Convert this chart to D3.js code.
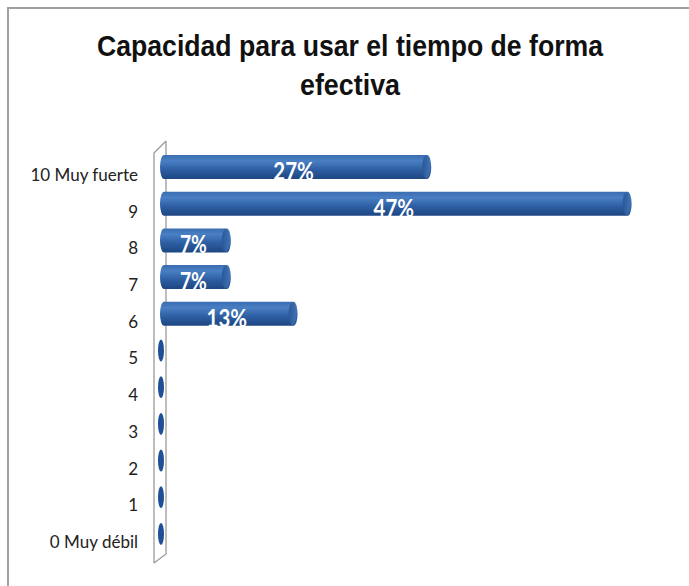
<!DOCTYPE html>
<html>
<head>
<meta charset="utf-8">
<script src="https://cdn.jsdelivr.net/npm/d3@7"></script>
<style>
  body { margin: 0; background: #fff; }
  svg { display: block; }
</style>
</head>
<body>
<svg id="chart" width="689" height="586"></svg>
<script>
// Chart data: share of answers per score (15 respondents)
const categories = ["10 Muy fuerte", "9", "8", "7", "6", "5", "4", "3", "2", "1", "0 Muy débil"]
const values = [26.67, 46.67, 6.67, 6.67, 13.33, 0, 0, 0, 0, 0, 0]
const valueLabels = ["27%", "47%", "7%", "7%", "13%", "", "", "", "", "", ""]
const titleLines = ["Capacidad para usar el tiempo de forma", "efectiva"]

const svg = d3.select("#chart")

// Outer frame (only top and left edges show in the picture)
svg.append("path")
  .attr("d", "M8,586 L8,8 L689,8")
  .attr("fill", "none")
  .attr("stroke", "#a0a0a0")
  .attr("stroke-width", 2)

// Title, squeezed a bit horizontally like the original
svg.append("text")
  .attr("x", 350).attr("y", 56)
  .attr("text-anchor", "middle")
  .attr("textLength", 506).attr("lengthAdjust", "spacingAndGlyphs")
  .style("font", "bold 29px 'Liberation Sans', Arial, sans-serif")
  .style("fill", "#111")
  .text(titleLines[0])
svg.append("text")
  .attr("x", 350).attr("y", 95)
  .attr("text-anchor", "middle")
  .attr("textLength", 100).attr("lengthAdjust", "spacingAndGlyphs")
  .style("font", "bold 29px 'Liberation Sans', Arial, sans-serif")
  .style("fill", "#111")
  .text(titleLines[1])

// Scales
const x = d3.scaleLinear().domain([0, 50]).range([160, 661])
const y = d3.scalePoint().domain(categories).range([167, 534])
const barH = 24
const depth = 8 // vertical offset of labels vs. bars (3D perspective)

// Back wall of the 3D chart
const wallTop = y(categories[0]) - barH / 2 - 2
const wallBot = y(categories[categories.length - 1]) + barH / 2 + 8
svg.append("path")
  .attr("d", `M154,${wallBot + 9} L154,${wallTop} L166,${wallTop - 12} M166,${wallTop - 12} L166,${wallBot} L154,${wallBot + 9}`)
  .attr("fill", "none")
  .attr("stroke", "#9a9a9a")
  .attr("stroke-width", 1.3)

// Gradients for the cylinders
const defs = svg.append("defs")
const body = defs.append("linearGradient").attr("id", "cyl").attr("x1", 0).attr("y1", 0).attr("x2", 0).attr("y2", 1)
body.append("stop").attr("offset", "0%").attr("stop-color", "#3a6db0")
body.append("stop").attr("offset", "25%").attr("stop-color", "#4a7fc4")
body.append("stop").attr("offset", "60%").attr("stop-color", "#2e5fa3")
body.append("stop").attr("offset", "100%").attr("stop-color", "#1d4682")
const cap = defs.append("linearGradient").attr("id", "cap").attr("x1", 0).attr("y1", 0).attr("x2", 1).attr("y2", 0)
cap.append("stop").attr("offset", "0%").attr("stop-color", "#2a5797")
cap.append("stop").attr("offset", "100%").attr("stop-color", "#3f72b5")

// Category labels
const axis = d3.axisLeft(d3.scalePoint().domain(categories).range([167 + depth, 534 + depth]))
  .tickSize(0).tickPadding(0)
const ax = svg.append("g").attr("transform", "translate(138,0)").call(axis)
ax.select(".domain").remove()
ax.selectAll("text")
  .style("font", "17px Lato, 'Open Sans', sans-serif")
  .style("fill", "#222")

// Bars as horizontal cylinders
const rows = categories.map((c, i) => ({ cat: c, value: values[i], label: valueLabels[i] }))
const bars = svg.append("g").selectAll("g").data(rows).enter().append("g")

bars.filter(d => d.value > 0).append("path")
  .attr("d", d => {
    const x0 = x(0), x1 = x(d.value), cy = y(d.cat), r = barH / 2, rx = 4
    return `M${x0 + rx},${cy - r} L${x1},${cy - r} A${rx},${r} 0 0,1 ${x1},${cy + r} L${x0 + rx},${cy + r} A${rx},${r} 0 0,1 ${x0 + rx},${cy - r} Z`
  })
  .attr("fill", "url(#cyl)")

bars.filter(d => d.value > 0).append("ellipse")
  .attr("cx", d => x(d.value) - 1)
  .attr("cy", d => y(d.cat))
  .attr("rx", 4).attr("ry", barH / 2 - 0.5)
  .attr("fill", "url(#cap)")

// Zero-value bars collapse to a flat disc
bars.filter(d => d.value === 0).append("ellipse")
  .attr("cx", x(0) + 1)
  .attr("cy", d => y(d.cat))
  .attr("rx", 3).attr("ry", 11)
  .attr("fill", "#1f4f94")

// Value labels, narrow like the original font
bars.filter(d => d.value > 0).append("text")
  .attr("x", d => (x(0) + x(d.value)) / 2)
  .attr("y", d => y(d.cat) + 13)
  .attr("text-anchor", "middle")
  .attr("textLength", d => d.label.length * 13.5)
  .attr("lengthAdjust", "spacingAndGlyphs")
  .style("font", "bold 25px Lato, 'Open Sans', sans-serif")
  .style("fill", "#fff")
  .text(d => d.label)
</script>
</body>
</html>
